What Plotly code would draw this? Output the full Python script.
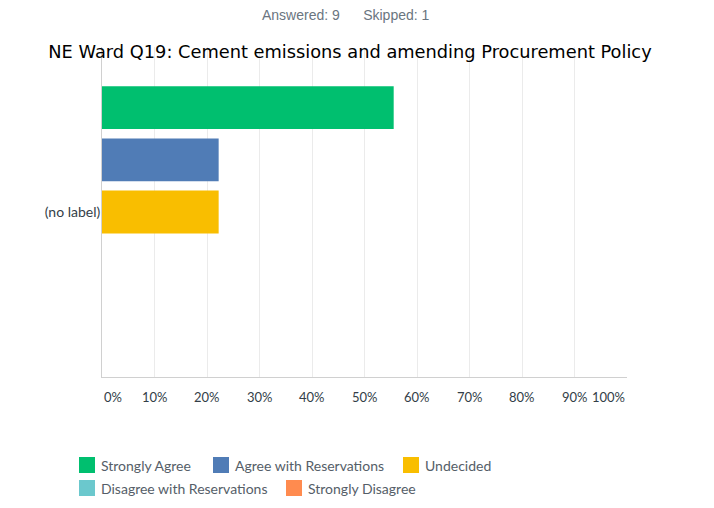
import plotly.graph_objects as go

# ------------------------------------------------------------
# Data
# ------------------------------------------------------------

categories = ["(no label)"]

answers = [
    "Strongly Agree",
    "Agree with Reservations",
    "Undecided",
    "Disagree with Reservations",
    "Strongly Disagree",
]

percents = [55.56, 22.22, 22.22, 0, 0]

colors = ["#00bf6f", "#507cb6", "#f9be00", "#6bc8cd", "#ff8b4f"]

tick_vals = [0, 10, 20, 30, 40, 50, 60, 70, 80, 90, 100]
tick_text = ["0%", "10%", "20%", "30%", "40%", "50%", "60%", "70%", "80%", "90%", "100%"]

# ------------------------------------------------------------
# Layout geometry (figure pixels; page body adds an 8px margin)
# ------------------------------------------------------------

W, H = 706, 500
L, R, T, B = 94, 87, 39, 131
PW, PH = W - L - R, H - T - B

# legend entry positions (left edge of square, row centre), in figure px
legend_pos = [(71, 457), (205, 457), (395, 457), (71, 480), (278, 480)]


def px_x(v):
    return (v - L) / PW


def px_y(v):
    return (H - B - v) / PH


label_font = dict(family="Lato, Inter, sans-serif", size=13, color="#333e48")

fig = go.Figure()

for name, pct, col in zip(answers, percents, colors):
    fig.add_trace(go.Bar(
        y=categories,
        x=[pct],
        name=name,
        orientation="h",
        marker=dict(color=col, line=dict(width=0)),
        showlegend=False,
        hovertemplate=name + ": %{x:.2f}%<extra></extra>",
    ))

# x tick labels, end labels pulled inside the axis
for v, t in zip(tick_vals, tick_text):
    if v == tick_vals[0]:
        anchor = "left"
    elif v == tick_vals[-1]:
        anchor = "right"
    else:
        anchor = "center"
    fig.add_annotation(
        x=v, y=px_y(H - B + 20), xref="x", yref="paper",
        text=t, showarrow=False,
        xanchor=anchor, yanchor="middle",
        font=label_font,
    )

# legend drawn by hand so entries flow like the original
for (lx, ly), name, col in zip(legend_pos, answers, colors):
    fig.add_shape(
        type="rect",
        xref="paper", yref="paper",
        xsizemode="pixel", ysizemode="pixel",
        xanchor=px_x(lx), yanchor=px_y(ly),
        x0=0, x1=16, y0=-8, y1=8,
        fillcolor=col, line=dict(width=0),
    )
    fig.add_annotation(
        x=px_x(lx + 20), y=px_y(ly), xref="paper", yref="paper",
        text=name, showarrow=False,
        xanchor="left", yanchor="middle",
        font=dict(family="Lato, Inter, sans-serif", size=14, color="#555e68"),
    )

fig.add_annotation(
    x=px_x(338), y=px_y(7), xref="paper", yref="paper",
    text="Answered: 9&nbsp;&nbsp;&nbsp;&nbsp;&nbsp;&nbsp;Skipped: 1",
    showarrow=False, xanchor="center", yanchor="middle",
    font=dict(family="Liberation Sans, Arial, sans-serif", size=14, color="#6a7580"),
)

fig.update_layout(
    width=W,
    height=H,
    barmode="group",
    bargap=0.21,
    bargroupgap=0.18,
    plot_bgcolor="white",
    paper_bgcolor="white",
    showlegend=False,
    margin=dict(l=L, r=R, t=T, b=B),
    title=dict(
        text="NE Ward Q19: Cement emissions and amending Procurement Policy",
        x=342 / W, xanchor="center",
        y=1 - 44 / H, yanchor="middle", yref="container",
        font=dict(family="DejaVu Sans, sans-serif", size=17.8, color="#000000"),
    ),
    xaxis=dict(
        range=[0, 100],
        tickvals=tick_vals,
        showticklabels=False,
        showgrid=True,
        gridcolor="#ebebeb",
        gridwidth=1,
        zeroline=False,
        showline=True,
        linecolor="#d0d0d0",
        linewidth=1,
        fixedrange=True,
    ),
    yaxis=dict(
        autorange="reversed",
        showgrid=False,
        showline=True,
        linecolor="#d0d0d0",
        linewidth=1,
        ticks="",
        ticklabelstandoff=-2,
        tickfont=dict(family="Lato, Inter, sans-serif", size=14, color="#333e48"),
        fixedrange=True,
    ),
)

fig.write_html("out.html")
